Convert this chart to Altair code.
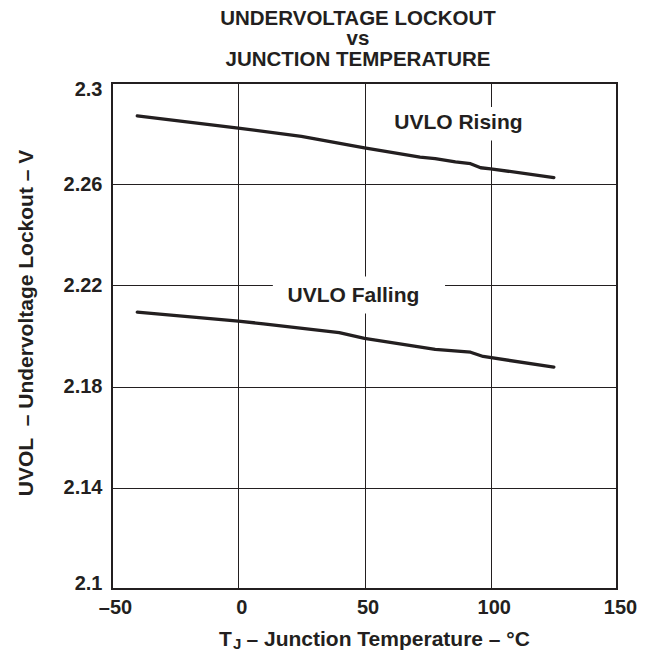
import altair as alt
import pandas as pd

INK = "#231f20"
FONT = "Liberation Sans"

# ---- data ----
temp_rising = [-40, 0, 25, 50, 72, 78, 86, 92, 96, 100, 125]
uvlo_rising = [2.2870, 2.2822, 2.2789, 2.2744, 2.2707, 2.2701, 2.2688, 2.2681, 2.2665, 2.2661, 2.2626]

temp_falling = [-40, 0, 10, 40, 50, 78, 92, 97, 125]
uvlo_falling = [2.2094, 2.2059, 2.2048, 2.2013, 2.1991, 2.1947, 2.1936, 2.1919, 2.1877]

x_ticks = [-50, 0, 50, 100, 150]
y_ticks = [2.1, 2.14, 2.18, 2.22, 2.26, 2.3]

curve_labels = ["UVLO Rising", "UVLO Falling"]
label_temp = [87.2, 45.6]
label_volt = [2.2819, 2.2133]
box_temp_lo = [59.0, 13.7]
box_temp_hi = [116.0, 81.9]
box_volt_lo = [2.2773, 2.2089]
box_volt_hi = [2.2905, 2.2235]

title_lines = ["UNDERVOLTAGE LOCKOUT", "vs", "JUNCTION TEMPERATURE"]
y_title = "UVOL\u00a0 \u2013 Undervoltage Lockout \u2013 V"
x_title_parts = ["T", "J", "\u2013 Junction Temperature \u2013 \u00b0C"]

# ---- tables ----
lines_df = pd.concat([
    pd.DataFrame({"T": temp_rising, "V": uvlo_rising, "series": "Rising"}),
    pd.DataFrame({"T": temp_falling, "V": uvlo_falling, "series": "Falling"}),
], ignore_index=True)

labels_df = pd.DataFrame({
    "label": curve_labels, "T": label_temp, "V": label_volt,
    "t1": box_temp_lo, "t2": box_temp_hi, "v1": box_volt_lo, "v2": box_volt_hi,
})

one = pd.DataFrame({"k": [0]})

xs = alt.Scale(domain=[-50, 150], nice=False, zero=False)
ys = alt.Scale(domain=[2.1, 2.3], nice=False, zero=False)

x_axis = alt.Axis(
    values=x_ticks, title=None, grid=True,
    labelExpr="replace(replace(datum.label, '\u2212', '\u2013'), '-', '\u2013')",
    labelPadding=24, labelBaseline="alphabetic", labelFlush=False, labelOffset=3,
)
y_axis = alt.Axis(
    values=y_ticks, format=".2~f", grid=True,
    title=y_title, titleX=-80, titleY=239.5, titleAngle=270,
    titleAlign="center", titleBaseline="alphabetic",
    labelFlush=True, labelFlushOffset=4, labelPadding=10,
)

lines = alt.Chart(lines_df).mark_line(
    color=INK, strokeWidth=3.3, strokeCap="round", strokeJoin="round"
).encode(
    x=alt.X("T:Q", scale=xs, axis=x_axis),
    y=alt.Y("V:Q", scale=ys, axis=y_axis),
    detail="series:N",
)

boxes = alt.Chart(labels_df).mark_rect(color="white").encode(
    x=alt.X("t1:Q", scale=xs), x2="t2:Q",
    y=alt.Y("v1:Q", scale=ys), y2="v2:Q",
)

texts = alt.Chart(labels_df).mark_text(
    font=FONT, fontSize=21, fontWeight="bold", color=INK,
    align="center", baseline="alphabetic",
).encode(
    x=alt.X("T:Q", scale=xs), y=alt.Y("V:Q", scale=ys), text="label:N",
)

xt_main = alt.Chart(one).mark_text(
    font=FONT, fontSize=21, fontWeight="bold", color=INK, align="left", baseline="alphabetic"
).encode(x=alt.value(107), y=alt.value(563), text=alt.value(x_title_parts[0]))
xt_sub = alt.Chart(one).mark_text(
    font=FONT, fontSize=15, fontWeight="bold", color=INK, align="left", baseline="alphabetic"
).encode(x=alt.value(121), y=alt.value(566), text=alt.value(x_title_parts[1]))
xt_rest = alt.Chart(one).mark_text(
    font=FONT, fontSize=21, fontWeight="bold", color=INK, align="left", baseline="alphabetic"
).encode(x=alt.value(134.5), y=alt.value(563), text=alt.value(x_title_parts[2]))

chart = alt.layer(boxes, texts, lines, xt_main, xt_sub, xt_rest).properties(
    width=505, height=506,
    padding={"left": 104, "top": 75, "right": 30, "bottom": 70},
    autosize=alt.AutoSizeParams(type="none"),
    title=alt.TitleParams(
        text=title_lines, font=FONT, fontSize=20.5, fontWeight="bold", color=INK,
        lineHeight=20.5, offset=9, dx=-6.5, anchor="middle",
    ),
).configure_view(
    stroke=INK, strokeWidth=2
).configure_axis(
    domain=False, ticks=False, tickSize=0,
    gridColor=INK, gridWidth=1, gridOpacity=1,
    labelFont=FONT, labelFontSize=20, labelFontWeight="bold", labelColor=INK,
    titleFont=FONT, titleFontSize=21, titleFontWeight="bold", titleColor=INK,
)

chart.save("out.html", embed_options={"renderer": "svg", "actions": False})
